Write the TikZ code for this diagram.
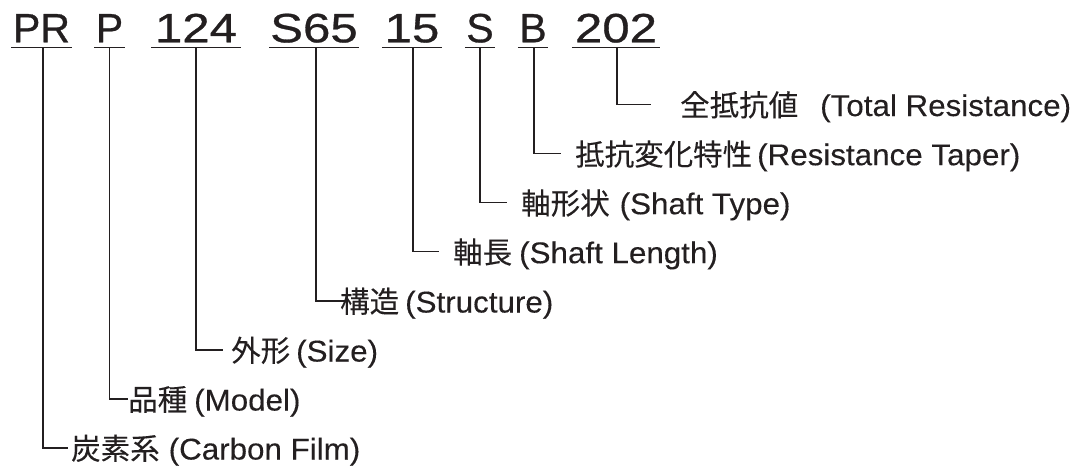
\documentclass[tikz,border=0pt]{standalone}
\usepackage{fontspec}
\setmainfont[FakeBold=0.2,FakeStretch=1.045]{Liberation Sans}
\newfontfamily\codefont[FakeStretch=1.2,FakeBold=0.7]{Liberation Sans}
\newfontfamily\letterfont[FakeBold=0.7]{Liberation Sans}
\newfontfamily\jpfont[FakeBold=0.15]{Noto Sans CJK JP}
\definecolor{ink}{RGB}{35,31,32}
\tikzset{
  x=1pt,y=-1pt,
  codebox/.style={inner sep=0pt,anchor=south,text=ink,font=\codefont\fontsize{41}{41}\selectfont,minimum height=36pt,text height=31pt,text depth=5pt},
  letterbox/.style={codebox,font=\letterfont\fontsize{41}{41}\selectfont},
  under/.style={draw=ink,line width=1.4pt},
  lead/.style={draw=ink,line width=1.2pt},
  lbl/.style={inner sep=0pt,anchor=west,text=ink,font=\fontsize{30}{32}\selectfont,text height=23pt,text depth=0pt},
}
\newcommand{\jp}[1]{{\jpfont\fontsize{29.5}{32}\selectfont #1}}
\begin{document}
\begin{tikzpicture}
\useasboundingbox (0,0) rectangle (1080,467);
\node[letterbox,minimum width=60pt] (pr) at (41.5,47.5) {PR};
\node[letterbox,minimum width=30pt] (p) at (109.5,47.5) {P};
\node[codebox,minimum width=89pt] (n124) at (196,47.5) {124};
\node[codebox,minimum width=89pt] (s65) at (314,47.5) {S65};
\node[codebox,minimum width=60pt] (n15) at (412,47.5) {15};
\node[letterbox,minimum width=30pt] (s) at (480,47.5) {S};
\node[letterbox,minimum width=30pt] (b) at (533,47.5) {B};
\node[codebox,minimum width=88pt] (n202) at (616,47.5) {202};
\foreach \c in {pr,p,n124,s65,n15,s,b,n202}
  \draw[under] (\c.south west) -- (\c.south east);

\node[lbl] (a) at (71,448) {\jp{炭素系}\hspace{9pt}(Carbon Film)};
\node[lbl] (c) at (128,399) {\jp{品種}\hspace{7pt}(Model)};
\node[lbl] (d) at (231,350) {\jp{外形}\hspace{6pt}(Size)};
\node[lbl] (e) at (340,301) {\jp{構造}\hspace{6pt}(Structure)};
\node[lbl] (f) at (453,251.7) {\jp{軸長}\hspace{7pt}(Shaft Length)};
\node[lbl] (g) at (521,202.7) {\jp{軸形状}\hspace{10pt}(Shaft Type)};
\node[lbl] (h) at (575,153.7) {\jp{抵抗変化特性}\hspace{5pt}(Resistance Taper)};
\node[lbl] (i) at (680,104.5) {\jp{全抵抗値}\hspace{22pt}(Total Resistance)};

\draw[lead] ([xshift=1.5pt]pr.south) |- ([xshift=-3pt]a.west);
\draw[lead] (p.south) |- (c.west);
\draw[lead] (n124.south) |- ([xshift=-8pt]d.west);
\draw[lead] ([xshift=2pt]s65.south) |- ([xshift=5pt]e.west);
\draw[lead] ([xshift=1pt]n15.south) |- ([xshift=-14pt]f.west);
\draw[lead] (s.south) |- ([xshift=-14pt]g.west);
\draw[lead] ([xshift=1pt]b.south) |- ([xshift=-14pt]h.west);
\draw[lead] ([xshift=1pt]n202.south) |- ([xshift=-29pt]i.west);
\end{tikzpicture}
\end{document}
